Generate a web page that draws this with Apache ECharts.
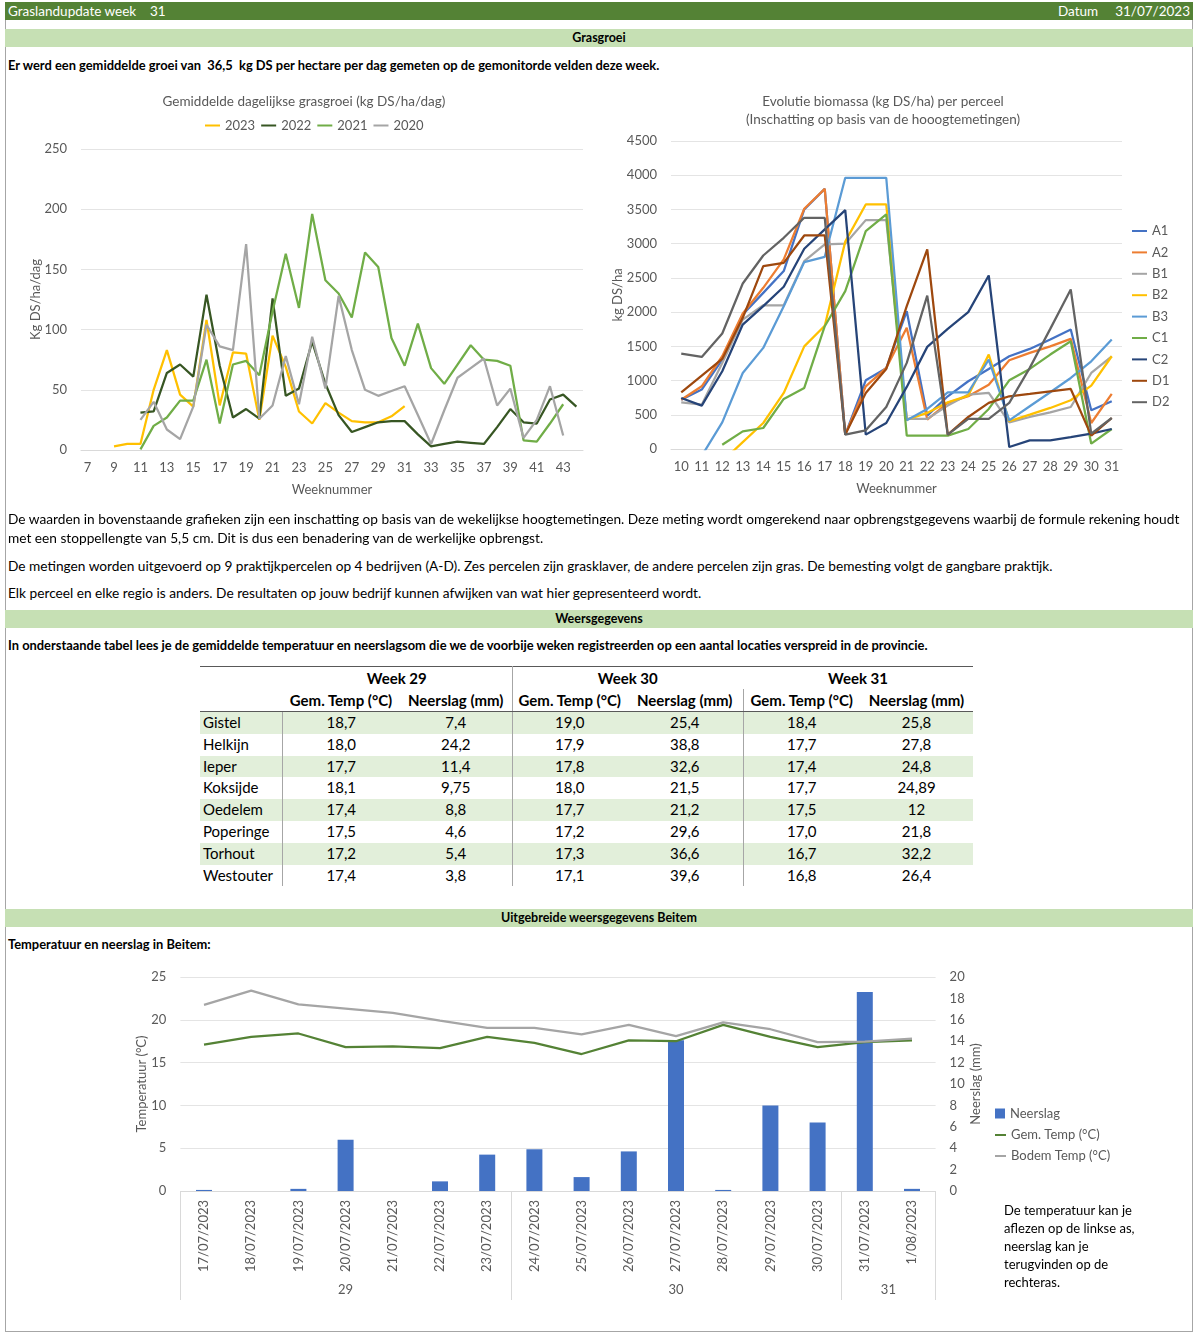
<!DOCTYPE html>
<html><head><meta charset="utf-8">
<script src="https://cdn.jsdelivr.net/npm/echarts@6/dist/echarts.min.js"></script>
<style>
html,body{margin:0;padding:0;background:#fff;}
body{width:1200px;height:1336px;position:relative;overflow:hidden;font-family:Lato,"Noto Sans",sans-serif;color:#000;}
.abs{position:absolute;}
#frame{left:5px;top:2px;width:1188px;height:1330px;border:1px solid #A6A6A6;box-sizing:border-box;}
#hdr{left:5px;top:2px;width:1188px;height:18px;background:#548235;color:#fff;font-size:13.5px;line-height:18px;}
.bar{left:5px;width:1188px;height:18px;background:#C6E0B4;font-weight:bold;font-size:12.5px;line-height:18px;text-align:center;}
.txt{left:8px;font-size:13.7px;line-height:19px;white-space:nowrap;}
.b{font-weight:bold;font-size:12.9px;}
#wt{left:200px;top:666px;width:773px;border-collapse:collapse;table-layout:fixed;font-size:15px;border-top:1px solid #595959;}
#wt td{padding:0;height:21.8px;line-height:21.8px;text-align:center;white-space:nowrap;}
#wt tr.hd td{font-weight:bold;height:22px;line-height:22px;}
#wt tr.hd2 td{border-bottom:1px solid #595959;}
#wt tr.alt td{background:#E2EFDA;}
#wt td.name{text-align:left;padding-left:3px;}
#wt td.vl{border-left:1px solid #A6A6A6;}
.chart{position:absolute;}
#note{left:1004px;top:1201px;font-size:13px;line-height:18px;}
</style></head>
<body>
<div id="frame" class="abs"></div>
<div id="hdr" class="abs"><span style="position:absolute;left:3px">Graslandupdate week&nbsp;&nbsp;&nbsp;&nbsp;31</span><span style="position:absolute;left:1053px">Datum</span><span style="position:absolute;right:3px">31/07/2023</span></div>
<div class="abs bar" style="top:29px">Grasgroei</div>
<div class="abs txt b" style="top:56px">Er werd een gemiddelde groei van &nbsp;36,5 &nbsp;kg DS per hectare per dag gemeten op de gemonitorde velden deze week.</div>
<div id="c1" class="chart" style="left:4px;top:80px;width:600px;height:430px"></div>
<div id="c2" class="chart" style="left:583px;top:80px;width:600px;height:430px"></div>
<div class="abs txt" style="top:509px">De waarden in bovenstaande grafieken zijn een inschatting op basis van de wekelijkse hoogtemetingen. Deze meting wordt omgerekend naar opbrengstgegevens waarbij de formule rekening houdt<br>met een stoppellengte van 5,5 cm. Dit is dus een benadering van de werkelijke opbrengst.</div>
<div class="abs txt" style="top:556px">De metingen worden uitgevoerd op 9 praktijkpercelen op 4 bedrijven (A-D). Zes percelen zijn grasklaver, de andere percelen zijn gras. De bemesting volgt de gangbare praktijk.</div>
<div class="abs txt" style="top:583px">Elk perceel en elke regio is anders. De resultaten op jouw bedrijf kunnen afwijken van wat hier gepresenteerd wordt.</div>
<div class="abs bar" style="top:610px">Weersgegevens</div>
<div class="abs txt b" style="top:636px">In onderstaande tabel lees je de gemiddelde temperatuur en neerslagsom die we de voorbije weken registreerden op een aantal locaties verspreid in de provincie.</div>
<table id="wt" class="abs"></table>
<div class="abs bar" style="top:909px">Uitgebreide weersgegevens Beitem</div>
<div class="abs txt b" style="top:935px">Temperatuur en neerslag in Beitem:</div>
<div id="c3" class="chart" style="left:0px;top:960px;width:1200px;height:350px"></div>
<div id="note" class="abs">De temperatuur kan je<br>aflezen op de linkse as,<br>neerslag kan je<br>terugvinden op de<br>rechteras.</div>
<script>
// ---------- Data: daily grass growth ----------
const weeks1 = [7,8,9,10,11,12,13,14,15,16,17,18,19,20,21,22,23,24,25,26,27,28,29,30,31,32,33,34,35,36,37,38,39,40,41,42,43,44];
const grow2023Start = 9;
const grow2023 = [3,5,5,50,83,46,36,108,37,81,80,25,95,69,32,22,39,31,24,23,23,28,36.5];
const grow2022Start = 11;
const grow2022 = [31,32,64,71,61,129,70,27,34,26,126,45,51,90,55,29,15,19,23,24,24,13,3,5,7,6,5,19,34,23,22,42,46,36];
const grow2021Start = 11;
const grow2021 = [0.5,20,27,41,41,75,22,71,74,62,115,163,118,196,141,130,110,164,152,93,70,105,68,55,71,87,75,74,70,8,7,22,38];
const grow2020Start = 11;
const grow2020 = [25,40,17,9,36,104,86,83,171,26,37,78,38,94,51,128,83,50,45,49,53,29,5,33,60,68,76,37,51,10,25,53,12];

// ---------- Data: biomass per plot ----------
const weeks2 = [10,11,12,13,14,15,16,17,18,19,20,21,22,23,24,25,26,27,28,29,30,31];
const A1 = [720,868,1306,1965,2281,2600,3500,3800,210,1004,1180,2013,487,770,990,1170,1355,1462,1600,1745,565,697];
const A2 = [720,916,1355,1980,2355,2770,3510,3800,210,916,1185,1770,430,673,770,940,1297,1404,1500,1609,380,804];
const B1 = [682,648,1258,1890,2100,2100,2745,2988,3000,3344,3344,440,440,634,795,820,390,468,536,614,1111,1355];
const B2 = [null,null,-180,100,380,819,1500,1800,3030,3573,3573,429,527,683,780,1380,405,502,600,712,926,1355];
const B3 = [null,-100,390,1111,1477,2087,2730,2808,3963,3963,3963,419,585,829,829,1306,419,624,829,1038,1282,1600];
const C1 = [null,null,63,258,307,731,892,1794,2306,3183,3427,195,195,195,292,585,1004,1170,1380,1575,78,292];
const C2 = [746,634,1136,1818,2087,2370,2925,3208,3490,210,380,907,1492,1755,2000,2535,29,127,127,175,224,292];
const D1 = [829,1072,1316,1916,2672,2720,3120,3120,210,819,1170,2087,2915,210,468,673,770,804,843,877,195,453];
const D2 = [1394,1345,1687,2418,2827,3086,3378,3378,210,273,614,1258,2242,210,439,439,673,1185,1755,2330,224,453];

// ---------- Data: weather table ----------
const tableWeeks = ['Week 29','Week 30','Week 31'];
const stations = ['Gistel','Helkijn','Ieper','Koksijde','Oedelem','Poperinge','Torhout','Westouter'];
const tempW29 = ['18,7','18,0','17,7','18,1','17,4','17,5','17,2','17,4'];
const rainW29 = ['7,4','24,2','11,4','9,75','8,8','4,6','5,4','3,8'];
const tempW30 = ['19,0','17,9','17,8','18,0','17,7','17,2','17,3','17,1'];
const rainW30 = ['25,4','38,8','32,6','21,5','21,2','29,6','36,6','39,6'];
const tempW31 = ['18,4','17,7','17,4','17,7','17,5','17,0','16,7','16,8'];
const rainW31 = ['25,8','27,8','24,8','24,89','12','21,8','32,2','26,4'];

// ---------- Data: Beitem ----------
const dates = ['17/07/2023','18/07/2023','19/07/2023','20/07/2023','21/07/2023','22/07/2023','23/07/2023','24/07/2023','25/07/2023','26/07/2023','27/07/2023','28/07/2023','29/07/2023','30/07/2023','31/07/2023','1/08/2023'];
const dayWeek = [29,29,29,29,29,29,29,30,30,30,30,30,30,30,31,31];
const rain = [0.1,0,0.2,4.8,0,0.9,3.4,3.9,1.3,3.7,14.1,0.1,8.0,6.4,18.6,0.2];
const gemTemp = [17.1,18.0,18.4,16.8,16.9,16.7,18.0,17.3,16.0,17.6,17.5,19.4,18.0,16.8,17.4,17.6];
const bodemTemp = [21.75,23.4,21.8,21.3,20.8,19.9,19.05,19.05,18.3,19.4,18.1,19.7,18.9,17.4,17.45,17.8];

// ---------- Table ----------
(function(){
  const t = document.getElementById('wt');
  const widths = [82,118,112,115,116,117,113];
  let h = '<colgroup>' + widths.map(w=>'<col style="width:'+w+'px">').join('') + '</colgroup>';
  h += '<tr class="hd"><td></td><td colspan="2">'+tableWeeks[0]+'</td><td colspan="2" class="vl">'+tableWeeks[1]+'</td><td colspan="2">'+tableWeeks[2]+'</td></tr>';
  h += '<tr class="hd hd2"><td></td>';
  for (let i=0;i<3;i++) h += '<td'+(i>0?' class="vl"':'')+'>Gem. Temp (°C)</td><td>Neerslag (mm)</td>';
  h += '</tr>';
  const cols = [[tempW29,rainW29],[tempW30,rainW30],[tempW31,rainW31]];
  stations.forEach((s,r)=>{
    h += '<tr'+(r%2===0?' class="alt"':'')+'><td class="name">'+s+'</td>';
    cols.forEach(c=>{ h += '<td class="vl">'+c[0][r]+'</td><td>'+c[1][r]+'</td>'; });
    h += '</tr>';
  });
  t.innerHTML = h;
})();

const F = 'Lato, "Noto Sans", sans-serif';
const grey = '#595959';
const gridLine = '#E4E4E4';

function pad(start, vals){ return weeks1.map(w => { const i = w - start; return (i>=0 && i<vals.length) ? vals[i] : null; }); }

// ---------- Chart 1 ----------
const c1 = echarts.init(document.getElementById('c1'));
const s1 = [
  {name:'2023', data:pad(grow2023Start,grow2023), color:'#FFC000'},
  {name:'2022', data:pad(grow2022Start,grow2022), color:'#375623'},
  {name:'2021', data:pad(grow2021Start,grow2021), color:'#70AD47'},
  {name:'2020', data:pad(grow2020Start,grow2020), color:'#A5A5A5'}
];
c1.setOption({
  animation:false,
  textStyle:{fontFamily:F},
  title:{text:'Gemiddelde dagelijkse grasgroei (kg DS/ha/dag)', left:'center', top:8, textStyle:{fontSize:13.5, fontWeight:'normal', color:grey, lineHeight:18}},
  legend:{left:196, top:34, itemWidth:15, itemHeight:2, icon:'rect', itemGap:6, textStyle:{fontSize:13, color:grey}, data:s1.map(s=>s.name)},
  grid:{left:77, top:69, width:502, height:301},
  xAxis:{type:'category', data:weeks1.map(String), boundaryGap:true, axisTick:{show:false},
    axisLine:{lineStyle:{color:'#D9D9D9'}}, axisLabel:{interval:1, color:grey, fontSize:13, margin:11},
    name:'Weeknummer', nameLocation:'middle', nameGap:33, nameTextStyle:{color:grey, fontSize:13}},
  yAxis:{type:'value', min:0, max:250, interval:50, axisLabel:{color:grey, fontSize:13, margin:14},
    splitLine:{lineStyle:{color:gridLine}}, name:'Kg DS/ha/dag', nameLocation:'middle', nameGap:39, nameRotate:90, nameMoveOverlap:false,
    nameTextStyle:{color:grey, fontSize:13}},
  series:s1.map(s=>({type:'line', name:s.name, data:s.data, symbol:'none', color:s.color, lineStyle:{width:2.25, color:s.color}, connectNulls:false}))
});

// ---------- Chart 2 ----------
const c2 = echarts.init(document.getElementById('c2'));
const s2 = [
  {name:'A1', data:A1, color:'#4472C4'},
  {name:'A2', data:A2, color:'#ED7D31'},
  {name:'B1', data:B1, color:'#A5A5A5'},
  {name:'B2', data:B2, color:'#FFC000'},
  {name:'B3', data:B3, color:'#5B9BD5'},
  {name:'C1', data:C1, color:'#70AD47'},
  {name:'C2', data:C2, color:'#264478'},
  {name:'D1', data:D1, color:'#9E480E'},
  {name:'D2', data:D2, color:'#636363'}
];
c2.setOption({
  animation:false,
  textStyle:{fontFamily:F},
  title:{text:'Evolutie biomassa (kg DS/ha) per perceel\n(Inschatting op basis van de hooogtemetingen)', left:'center', top:8, textStyle:{fontSize:13.5, fontWeight:'normal', color:grey, lineHeight:18, align:'center'}},
  legend:{orient:'vertical', left:544, top:139, itemWidth:15, itemHeight:2, icon:'rect', itemGap:7.4, textStyle:{fontSize:13, color:grey, lineHeight:14}, data:s2.map(s=>s.name)},
  grid:{left:88, top:61, width:451, height:308},
  xAxis:{type:'category', data:weeks2.map(String), boundaryGap:true, axisTick:{show:false},
    axisLine:{lineStyle:{color:'#D9D9D9'}}, axisLabel:{interval:0, color:grey, fontSize:13, margin:11},
    name:'Weeknummer', nameLocation:'middle', nameGap:33, nameTextStyle:{color:grey, fontSize:13}},
  yAxis:{type:'value', min:0, max:4500, interval:500, axisLabel:{color:grey, fontSize:13, margin:14, formatter:v=>String(v)},
    splitLine:{lineStyle:{color:gridLine}}, name:'kg DS/ha', nameLocation:'middle', nameGap:47, nameRotate:90, nameMoveOverlap:false,
    nameTextStyle:{color:grey, fontSize:13}},
  series:s2.map(s=>({type:'line', name:s.name, data:s.data, symbol:'none', color:s.color, lineStyle:{width:2.25, color:s.color}, clip:true}))
});

// ---------- Chart 3 ----------
const groups = [];
dayWeek.forEach((w,i)=>{ const g = groups[groups.length-1]; if (g && g.week===w) g.end = i+1; else groups.push({week:w, start:i, end:i+1}); });
const groupBounds = [groups[0].start].concat(groups.map(g=>g.end));
const groupCenters = groups.map(g=>(g.start+g.end)/2);
const c3 = echarts.init(document.getElementById('c3'));
const g3 = {left:180.4, top:17, width:755.2, height:214};
c3.setOption({
  animation:false,
  textStyle:{fontFamily:F},
  legend:[
    {data:['Neerslag'], left:990, top:142, itemWidth:10, itemHeight:10, icon:'rect', textStyle:{fontSize:13, color:grey}},
    {data:['Gem. Temp (°C)','Bodem Temp (°C)'], orient:'vertical', left:990, top:163, itemWidth:11, itemHeight:2, icon:'rect', itemGap:7, textStyle:{fontSize:13, color:grey, lineHeight:14}}
  ],
  grid:[g3, Object.assign({}, g3)],
  xAxis:[
    {type:'category', gridIndex:0, data:dates, boundaryGap:true, axisTick:{show:false},
      axisLine:{lineStyle:{color:'#D9D9D9'}}, axisLabel:{interval:0, rotate:90, color:grey, fontSize:13, margin:9}},
    {type:'value', gridIndex:1, position:'bottom', min:0, max:dates.length, axisLine:{show:false}, splitLine:{show:false},
      axisTick:{show:true, customValues:groupBounds, length:109, lineStyle:{color:'#D9D9D9'}},
      axisLabel:{customValues:groupCenters, color:grey, fontSize:13, margin:92,
        formatter:v=>{ const g = groups.find(g=>Math.abs((g.start+g.end)/2 - v)<1e-6); return g ? String(g.week) : ''; }}}
  ],
  yAxis:[
    {type:'value', gridIndex:0, position:'left', min:0, max:25, interval:5, axisLabel:{color:grey, fontSize:13, margin:14},
      splitLine:{lineStyle:{color:gridLine}}, name:'Temperatuur (°C)', nameLocation:'middle', nameGap:32, nameRotate:90, nameMoveOverlap:false,
      nameTextStyle:{color:grey, fontSize:13}},
    {type:'value', gridIndex:0, position:'right', min:0, max:20, interval:2, axisLabel:{color:grey, fontSize:13, margin:14},
      splitLine:{show:false}, name:'Neerslag (mm)', nameLocation:'middle', nameGap:34, nameRotate:90, nameMoveOverlap:false,
      nameTextStyle:{color:grey, fontSize:13}},
    {type:'value', gridIndex:1, show:false, min:0, max:1}
  ],
  series:[
    {type:'bar', name:'Neerslag', data:rain, xAxisIndex:0, yAxisIndex:1, barWidth:16, color:'#4472C4', itemStyle:{color:'#4472C4'}},
    {type:'line', name:'Gem. Temp (°C)', data:gemTemp, xAxisIndex:0, yAxisIndex:0, symbol:'none', color:'#548235', lineStyle:{width:2.25, color:'#548235'}},
    {type:'line', name:'Bodem Temp (°C)', data:bodemTemp, xAxisIndex:0, yAxisIndex:0, symbol:'none', color:'#A5A5A5', lineStyle:{width:2.25, color:'#A5A5A5'}}
  ]
});
</script>
</body></html>
